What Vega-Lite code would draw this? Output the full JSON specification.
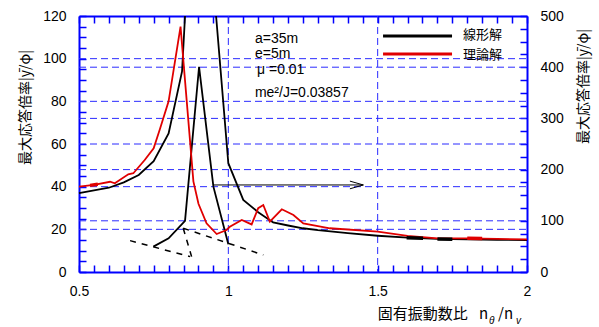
{
  "$schema": "https://vega.github.io/schema/vega-lite/v6.json",
  "width": 448,
  "height": 256,
  "autosize": {"type": "none"},
  "padding": {"left": 79, "top": 16, "right": 72, "bottom": 55},
  "background": "white",
  "config": {"view": {"stroke": null}},
  "datasets": {
    "curves": [
      {"x": 0.5, "y": 37, "s": "線形解", "g": "b1"},
      {"x": 0.6, "y": 39.5, "s": "線形解", "g": "b1"},
      {"x": 0.65, "y": 42, "s": "線形解", "g": "b1"},
      {"x": 0.7, "y": 45.5, "s": "線形解", "g": "b1"},
      {"x": 0.75, "y": 52, "s": "線形解", "g": "b1"},
      {"x": 0.8, "y": 65, "s": "線形解", "g": "b1"},
      {"x": 0.845, "y": 94, "s": "線形解", "g": "b1"},
      {"x": 0.855, "y": 120, "s": "線形解", "g": "b1"},
      {"x": 0.959, "y": 120, "s": "線形解", "g": "b2"},
      {"x": 1.0, "y": 51, "s": "線形解", "g": "b2"},
      {"x": 1.05, "y": 33.8, "s": "線形解", "g": "b2"},
      {"x": 1.1, "y": 28, "s": "線形解", "g": "b2"},
      {"x": 1.15, "y": 23.2, "s": "線形解", "g": "b2"},
      {"x": 1.2, "y": 21.8, "s": "線形解", "g": "b2"},
      {"x": 1.25, "y": 20.5, "s": "線形解", "g": "b2"},
      {"x": 1.3, "y": 19.6, "s": "線形解", "g": "b2"},
      {"x": 1.4, "y": 18.2, "s": "線形解", "g": "b2"},
      {"x": 1.5, "y": 17, "s": "線形解", "g": "b2"},
      {"x": 1.6, "y": 16.1, "s": "線形解", "g": "b2"},
      {"x": 1.7, "y": 15.5, "s": "線形解", "g": "b2"},
      {"x": 1.8, "y": 15.3, "s": "線形解", "g": "b2"},
      {"x": 1.9, "y": 15.1, "s": "線形解", "g": "b2"},
      {"x": 2.0, "y": 15, "s": "線形解", "g": "b2"},
      {"x": 0.749, "y": 11.9, "s": "線形解", "g": "b3"},
      {"x": 0.8, "y": 15.8, "s": "線形解", "g": "b3"},
      {"x": 0.855, "y": 24, "s": "線形解", "g": "b3"},
      {"x": 0.902, "y": 96.2, "s": "線形解", "g": "b3"},
      {"x": 0.95, "y": 40, "s": "線形解", "g": "b3"},
      {"x": 1.0, "y": 13, "s": "線形解", "g": "b3"},
      {"x": 0.5, "y": 40, "s": "理論解", "g": "r1"},
      {"x": 0.55, "y": 40.8, "s": "理論解", "g": "r1"},
      {"x": 0.604, "y": 42.3, "s": "理論解", "g": "r1"},
      {"x": 0.62, "y": 41.6, "s": "理論解", "g": "r1"},
      {"x": 0.665, "y": 45.8, "s": "理論解", "g": "r1"},
      {"x": 0.682, "y": 46.3, "s": "理論解", "g": "r1"},
      {"x": 0.72, "y": 52.5, "s": "理論解", "g": "r1"},
      {"x": 0.75, "y": 58, "s": "理論解", "g": "r1"},
      {"x": 0.771, "y": 67, "s": "理論解", "g": "r1"},
      {"x": 0.8, "y": 80, "s": "理論解", "g": "r1"},
      {"x": 0.84, "y": 115, "s": "理論解", "g": "r1"},
      {"x": 0.883, "y": 42.5, "s": "理論解", "g": "r1"},
      {"x": 0.9, "y": 32, "s": "理論解", "g": "r1"},
      {"x": 0.927, "y": 22.8, "s": "理論解", "g": "r1"},
      {"x": 0.961, "y": 17.8, "s": "理論解", "g": "r1"},
      {"x": 0.994, "y": 19.7, "s": "理論解", "g": "r1"},
      {"x": 1.005, "y": 21.2, "s": "理論解", "g": "r1"},
      {"x": 1.045, "y": 24.4, "s": "理論解", "g": "r1"},
      {"x": 1.078, "y": 22.3, "s": "理論解", "g": "r1"},
      {"x": 1.1, "y": 29.9, "s": "理論解", "g": "r1"},
      {"x": 1.117, "y": 31.4, "s": "理論解", "g": "r1"},
      {"x": 1.139, "y": 23.6, "s": "理論解", "g": "r1"},
      {"x": 1.179, "y": 29.4, "s": "理論解", "g": "r1"},
      {"x": 1.218, "y": 26.7, "s": "理論解", "g": "r1"},
      {"x": 1.251, "y": 22.8, "s": "理論解", "g": "r1"},
      {"x": 1.34, "y": 20.5, "s": "理論解", "g": "r1"},
      {"x": 1.5, "y": 18.9, "s": "理論解", "g": "r1"},
      {"x": 1.6, "y": 16.9, "s": "理論解", "g": "r1"},
      {"x": 1.7, "y": 15.8, "s": "理論解", "g": "r1"},
      {"x": 1.8, "y": 15.8, "s": "理論解", "g": "r1"},
      {"x": 1.9, "y": 15.5, "s": "理論解", "g": "r1"},
      {"x": 2.0, "y": 15.3, "s": "理論解", "g": "r1"}
    ],
    "thick": [
      {"x": 0.537, "y": 40.6, "s": "理論解", "g": "t1"},
      {"x": 0.563, "y": 41.1, "s": "理論解", "g": "t1"},
      {"x": 1.597, "y": 16.1, "s": "線形解", "g": "t2"},
      {"x": 1.652, "y": 15.8, "s": "線形解", "g": "t2"},
      {"x": 1.7, "y": 15.5, "s": "線形解", "g": "t3"},
      {"x": 1.75, "y": 15.4, "s": "線形解", "g": "t3"},
      {"x": 1.8, "y": 15.8, "s": "理論解", "g": "t4"},
      {"x": 1.85, "y": 15.7, "s": "理論解", "g": "t4"}
    ],
    "dashed": [
      {"x": 0.671, "y": 14.7, "g": "d1"},
      {"x": 0.872, "y": 7.2, "g": "d1"},
      {"x": 0.849, "y": 20.5, "g": "d2"},
      {"x": 0.877, "y": 7.2, "g": "d2"},
      {"x": 0.849, "y": 20.5, "g": "d3"},
      {"x": 1.117, "y": 8.0, "g": "d3"}
    ],
    "arrow": [
      {"x": 0.95, "y": 40.8, "o": 1, "g": "a1"},
      {"x": 1.452, "y": 40.8, "o": 2, "g": "a1"},
      {"x": 1.407, "y": 42.6, "o": 1, "g": "a2"},
      {"x": 1.452, "y": 40.8, "o": 2, "g": "a2"},
      {"x": 1.407, "y": 39.0, "o": 3, "g": "a2"}
    ],
    "legend": [
      {"x": 1.518, "y": 110.6, "s": "線形解"},
      {"x": 1.749, "y": 110.6, "s": "線形解"},
      {"x": 1.518, "y": 102.2, "s": "理論解"},
      {"x": 1.749, "y": 102.2, "s": "理論解"}
    ],
    "legendText": [
      {"x": 1.786, "y": 111.1, "t": "線形解"},
      {"x": 1.786, "y": 101.7, "t": "理論解"}
    ],
    "notes": [
      {"x": 1.089, "y": 107.4, "t": "a=35m"},
      {"x": 1.089, "y": 100.3, "t": "e=5m"},
      {"x": 1.096, "y": 92.8, "t": "μ =0.01"},
      {"x": 1.089, "y": 82.0, "t": "me²/J=0.03857"}
    ],
    "xtitle": [
      {"x": 1.5, "y": -22.0, "t": "固有振動数比"},
      {"x": 1.839, "y": -22.0, "t": "n"},
      {"x": 1.903, "y": -22.0, "t": "/n"}
    ],
    "xsub": [
      {"x": 1.873, "y": -24.2, "t": "θ"},
      {"x": 1.963, "y": -24.5, "t": "v"}
    ],
    "rgrid": [{"r": 100}, {"r": 200}, {"r": 300}, {"r": 400}],
    "lgrid": [{"r": 20}, {"r": 40}, {"r": 60}, {"r": 80}, {"r": 100}],
    "vgrid": [{"v": 1}, {"v": 1.5}]
  },
  "layer": [
    {
      "data": {"name": "rgrid"},
      "mark": {"type": "rule", "color": "#2b2bff", "strokeDash": [7, 4], "strokeWidth": 1},
      "encoding": {
        "y": {
          "field": "r", "type": "quantitative",
          "scale": {"domain": [0, 500], "nice": false, "zero": false},
          "axis": {
            "orient": "right",
            "values": [0, 25, 50, 75, 100, 125, 150, 175, 200, 225, 250, 275, 300, 325, 350, 375, 400, 425, 450, 475, 500],
            "labelExpr": "datum.value % 100 == 0 ? datum.value + '' : ''",
            "tickSize": -7, "tickColor": "#0000ff", "tickWidth": 1.5,
            "domainColor": "#0000ff", "domainWidth": 2,
            "labelFont": "Liberation Sans", "labelFontSize": 14, "labelColor": "#000000",
            "labelPadding": 20, "labelFlush": false, "labelOverlap": false, "labelBound": false,
            "grid": false,
            "title": "最大応答倍率|ȳ/φ|",
            "titleFont": "Noto Sans CJK JP", "titleFontSize": 14, "titleFontWeight": "normal", "titleColor": "#000000",
            "titleAngle": 270, "titleX": 56, "titleY": 70, "titleAlign": "center", "titleBaseline": "middle"
          }
        },
        "x": {
          "datum": 0.5, "type": "quantitative",
          "scale": {"domain": [0.5, 2], "nice": false, "zero": false},
          "axis": {
            "orient": "top",
            "values": [0.5, 0.55, 0.6, 0.65, 0.7, 0.75, 0.8, 0.85, 0.9, 0.95, 1, 1.05, 1.1, 1.15, 1.2, 1.25, 1.3, 1.35, 1.4, 1.45, 1.5, 1.55, 1.6, 1.65, 1.7, 1.75, 1.8, 1.85, 1.9, 1.95, 2],
            "labels": false, "tickSize": -7, "tickColor": "#0000ff", "tickWidth": 1.5,
            "domainColor": "#0000ff", "domainWidth": 2, "grid": false, "title": null
          }
        },
        "x2": {"datum": 2}
      }
    },
    {
      "data": {"name": "lgrid"},
      "mark": {"type": "rule", "color": "#2b2bff", "strokeDash": [7, 4], "strokeWidth": 1},
      "encoding": {
        "y": {
          "field": "r", "type": "quantitative",
          "scale": {"domain": [0, 120], "nice": false, "zero": false},
          "axis": {
            "orient": "left",
            "values": [0, 5, 10, 15, 20, 25, 30, 35, 40, 45, 50, 55, 60, 65, 70, 75, 80, 85, 90, 95, 100, 105, 110, 115, 120],
            "labelExpr": "datum.value % 20 == 0 ? datum.value + '' : ''",
            "tickSize": -7, "tickColor": "#0000ff", "tickWidth": 1.5,
            "domainColor": "#0000ff", "domainWidth": 2,
            "labelFont": "Liberation Sans", "labelFontSize": 14, "labelColor": "#000000",
            "labelPadding": 20, "labelFlush": false, "labelOverlap": false, "labelBound": false,
            "grid": false,
            "title": "最大応答倍率|ȳ/φ|",
            "titleFont": "Noto Sans CJK JP", "titleFontSize": 14, "titleFontWeight": "normal", "titleColor": "#000000",
            "titleAngle": 270, "titleX": -54, "titleY": 91, "titleAlign": "center", "titleBaseline": "middle"
          }
        },
        "x": {
          "datum": 0.5, "type": "quantitative",
          "scale": {"domain": [0.5, 2], "nice": false, "zero": false},
          "axis": {
            "orient": "bottom",
            "values": [0.5, 0.55, 0.6, 0.65, 0.7, 0.75, 0.8, 0.85, 0.9, 0.95, 1, 1.05, 1.1, 1.15, 1.2, 1.25, 1.3, 1.35, 1.4, 1.45, 1.5, 1.55, 1.6, 1.65, 1.7, 1.75, 1.8, 1.85, 1.9, 1.95, 2],
            "labelExpr": "datum.value == 0.5 ? '0.5' : datum.value == 1 ? '1' : datum.value == 1.5 ? '1.5' : datum.value == 2 ? '2' : ''",
            "tickSize": -7, "tickColor": "#0000ff", "tickWidth": 1.5,
            "domainColor": "#0000ff", "domainWidth": 2,
            "labelFont": "Liberation Sans", "labelFontSize": 14, "labelColor": "#000000",
            "labelPadding": 19, "labelFlush": false, "labelOverlap": false, "labelBound": false,
            "grid": false, "title": null
          }
        },
        "x2": {"datum": 2}
      }
    },
    {
      "data": {"name": "vgrid"},
      "mark": {"type": "rule", "color": "#2b2bff", "strokeDash": [7, 4], "strokeWidth": 1},
      "encoding": {
        "x": {"field": "v", "type": "quantitative", "scale": {"domain": [0.5, 2], "nice": false, "zero": false}, "axis": null}
      }
    },
    {
      "data": {"name": "curves"},
      "mark": {"type": "line", "strokeWidth": 1.8},
      "encoding": {
        "x": {"field": "x", "type": "quantitative", "scale": {"domain": [0.5, 2], "nice": false, "zero": false}, "axis": null},
        "y": {"field": "y", "type": "quantitative", "scale": {"domain": [0, 120], "nice": false, "zero": false}, "axis": null},
        "color": {"field": "s", "type": "nominal", "scale": {"domain": ["線形解", "理論解"], "range": ["#000000", "#e00000"]}, "legend": null},
        "detail": {"field": "g"}
      }
    },
    {
      "data": {"name": "thick"},
      "mark": {"type": "line", "strokeWidth": 3.5},
      "encoding": {
        "x": {"field": "x", "type": "quantitative", "axis": null},
        "y": {"field": "y", "type": "quantitative", "scale": {"domain": [0, 120], "nice": false, "zero": false}, "axis": null},
        "color": {"field": "s", "type": "nominal", "legend": null},
        "detail": {"field": "g"}
      }
    },
    {
      "data": {"name": "dashed"},
      "mark": {"type": "line", "strokeWidth": 1.5, "color": "#000000", "strokeDash": [6, 6]},
      "encoding": {
        "x": {"field": "x", "type": "quantitative", "axis": null},
        "y": {"field": "y", "type": "quantitative", "scale": {"domain": [0, 120], "nice": false, "zero": false}, "axis": null},
        "detail": {"field": "g"}
      }
    },
    {
      "data": {"name": "arrow"},
      "mark": {"type": "line", "strokeWidth": 1, "color": "#000000"},
      "encoding": {
        "x": {"field": "x", "type": "quantitative", "axis": null},
        "y": {"field": "y", "type": "quantitative", "scale": {"domain": [0, 120], "nice": false, "zero": false}, "axis": null},
        "order": {"field": "o"},
        "detail": {"field": "g"}
      }
    },
    {
      "data": {"name": "legend"},
      "mark": {"type": "line", "strokeWidth": 3},
      "encoding": {
        "x": {"field": "x", "type": "quantitative", "axis": null},
        "y": {"field": "y", "type": "quantitative", "scale": {"domain": [0, 120], "nice": false, "zero": false}, "axis": null},
        "color": {"field": "s", "type": "nominal", "legend": null}
      }
    },
    {
      "data": {"name": "legendText"},
      "mark": {"type": "text", "align": "left", "baseline": "middle", "font": "Noto Sans CJK JP", "fontSize": 13, "color": "#000000"},
      "encoding": {
        "x": {"field": "x", "type": "quantitative", "axis": null},
        "y": {"field": "y", "type": "quantitative", "scale": {"domain": [0, 120], "nice": false, "zero": false}, "axis": null},
        "text": {"field": "t"}
      }
    },
    {
      "data": {"name": "notes"},
      "mark": {"type": "text", "align": "left", "baseline": "alphabetic", "font": "Liberation Sans", "fontSize": 14, "color": "#000000"},
      "encoding": {
        "x": {"field": "x", "type": "quantitative", "axis": null},
        "y": {"field": "y", "type": "quantitative", "scale": {"domain": [0, 120], "nice": false, "zero": false}, "axis": null},
        "text": {"field": "t"}
      }
    },
    {
      "data": {"name": "xtitle"},
      "mark": {"type": "text", "align": "left", "baseline": "alphabetic", "font": "Noto Sans CJK JP", "fontSize": 15, "color": "#000000", "clip": false},
      "encoding": {
        "x": {"field": "x", "type": "quantitative", "axis": null},
        "y": {"field": "y", "type": "quantitative", "scale": {"domain": [0, 120], "nice": false, "zero": false}, "axis": null},
        "text": {"field": "t"}
      }
    },
    {
      "data": {"name": "xsub"},
      "mark": {"type": "text", "align": "left", "baseline": "alphabetic", "font": "Liberation Sans", "fontSize": 10, "fontStyle": "italic", "color": "#000000", "clip": false},
      "encoding": {
        "x": {"field": "x", "type": "quantitative", "axis": null},
        "y": {"field": "y", "type": "quantitative", "scale": {"domain": [0, 120], "nice": false, "zero": false}, "axis": null},
        "text": {"field": "t"}
      }
    }
  ],
  "resolve": {"scale": {"y": "independent"}, "axis": {"x": "independent", "y": "independent"}}
}
